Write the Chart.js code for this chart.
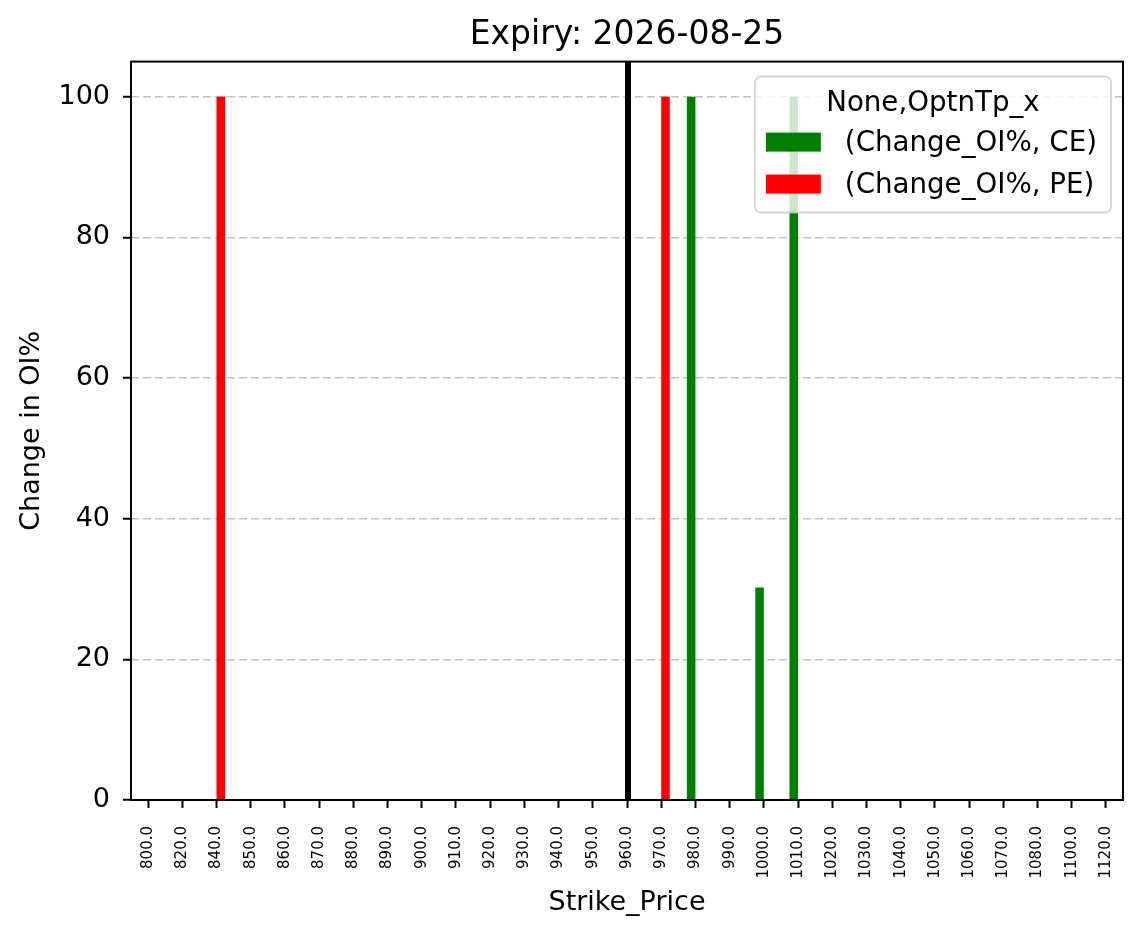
<!DOCTYPE html>
<html>
<head>
<meta charset="utf-8">
<script src="https://cdn.jsdelivr.net/npm/chart.js@4"></script>
<style>
  body { margin: 0; background: #fff; }
  canvas { display: block; }
</style>
</head>
<body>
<canvas id="oiChart" width="1143" height="939"></canvas>
<script>
// strikes on the x axis (as pandas prints them)
const CATEGORIES = ['800.0', '820.0', '840.0', '850.0', '860.0', '870.0', '880.0', '890.0', '900.0', '910.0',
    '920.0', '930.0', '940.0', '950.0', '960.0', '970.0', '980.0', '990.0', '1000.0', '1010.0',
    '1020.0', '1030.0', '1040.0', '1050.0', '1060.0', '1070.0', '1080.0', '1100.0', '1120.0'];

// change in OI% per strike
const CE_VALUES = [0, 0, 0, 0, 0, 0, 0, 0, 0, 0,
    0, 0, 0, 0, 0, 0, 100, 0, 30.2, 100,
    0, 0, 0, 0, 0, 0, 0, 0, 0];
const PE_VALUES = [0, 0, 100, 0, 0, 0, 0, 0, 0, 0,
    0, 0, 0, 0, 0, 100, 0, 0, 0, 0,
    0, 0, 0, 0, 0, 0, 0, 0, 0];

const Y_TICKS = [0, 20, 40, 60, 80, 100];
const ATM_STRIKE = '960.0';

const FONT = '"DejaVu Sans", sans-serif';
Chart.defaults.color = '#000';
Chart.defaults.font.family = FONT;

//thick black line at the current strike
const strikeLine = {
    id: 'strikeLine',
    afterDraw(chart) {
        const {ctx, chartArea: a, scales} = chart;
        const x = scales.x.getPixelForValue(CATEGORIES.indexOf(ATM_STRIKE));
        ctx.save();
        ctx.strokeStyle = '#000';
        ctx.lineWidth = 6;
        ctx.beginPath();
        ctx.moveTo(x + 1, a.top);
        ctx.lineTo(x + 1, a.bottom);
        ctx.stroke();
        ctx.restore();
    }
};

//box around the plot like matplotlib spines
const frame = {
    id: 'frame',
    afterDraw(chart) {
        const {ctx, chartArea: a} = chart;
        ctx.save();
        ctx.strokeStyle = '#000';
        ctx.lineWidth = 2;
        ctx.strokeRect(a.left, a.top, a.right - a.left, a.bottom - a.top);
        ctx.restore();
    }
};

//legend drawn inside the plot, upper right, with a title
const legendBox = {
    id: 'legendBox',
    afterDraw(chart) {
        const {ctx, chartArea: a} = chart;
        const title = 'None,OptnTp_x';
        const sets = chart.data.datasets;
        ctx.save();
        ctx.font = '27.7px ' + FONT;
        let textW = 0;
        sets.forEach(d => { textW = Math.max(textW, ctx.measureText(d.label).width); });
        const w = 11 + 55 + 24 + textW + 14;
        const h = 136;
        const right = a.right - 12;
        const left = right - w;
        const top = a.top + 15;
        const r = 6;

        ctx.beginPath();
        ctx.moveTo(left + r, top);
        ctx.lineTo(right - r, top);
        ctx.arcTo(right, top, right, top + r, r);
        ctx.lineTo(right, top + h - r);
        ctx.arcTo(right, top + h, right - r, top + h, r);
        ctx.lineTo(left + r, top + h);
        ctx.arcTo(left, top + h, left, top + h - r, r);
        ctx.lineTo(left, top + r);
        ctx.arcTo(left, top, left + r, top, r);
        ctx.closePath();
        ctx.fillStyle = 'rgba(255,255,255,0.8)';
        ctx.fill();
        ctx.strokeStyle = 'rgba(204,204,204,0.8)';
        ctx.lineWidth = 2;
        ctx.stroke();

        ctx.fillStyle = '#000';
        ctx.textBaseline = 'middle';
        ctx.textAlign = 'center';
        ctx.fillText(title, (left + right) / 2, top + 27);

        ctx.textAlign = 'left';
        sets.forEach((d, i) => {
            const cy = top + 65.5 + i * 42;
            ctx.fillStyle = d.backgroundColor;
            ctx.fillRect(left + 11, cy - 9.5, 55, 19);
            ctx.fillStyle = '#000';
            ctx.fillText(d.label, left + 11 + 55 + 24, cy + 2);
        });
        ctx.restore();
    }
};

const ctx = document.getElementById('oiChart').getContext('2d');

const myChart = new Chart(ctx, {
    type: 'bar',
    data: {
        labels: CATEGORIES,
        datasets: [
            {
                label: '(Change_OI%, CE)',
                backgroundColor: '#008000',
                data: CE_VALUES,
            },
            {
                label: '(Change_OI%, PE)',
                backgroundColor: '#ff0000',
                data: PE_VALUES,
            },
        ],
    },
    options: {
        responsive: false,
        animation: false,
        categoryPercentage: 0.5,
        barPercentage: 1.0,
        layout: {
            padding: {top: 0, right: 20, bottom: 0, left: 0}
        },
        plugins: {
            legend: {display: false},
            tooltip: {enabled: false},
            title: {
                display: true,
                fullSize: false,
                text: 'Expiry: 2026-08-25',
                color: '#000',
                font: {size: 33, weight: 'normal', family: FONT},
                padding: {top: 16, bottom: 6},
            },
        },
        scales: {
            x: {
                offset: true,
                afterFit: (scale) => { scale.height = 139; },
                grid: {
                    offset: false,
                    drawOnChartArea: false,
                    drawTicks: true,
                    tickLength: 8,
                    tickWidth: 2,
                    tickColor: '#000',
                },
                border: {display: false},
                ticks: {
                    autoSkip: false,
                    minRotation: 90,
                    maxRotation: 90,
                    padding: 18,
                    color: '#000',
                    font: {size: 15, family: FONT},
                },
                title: {
                    display: true,
                    text: 'Strike_Price',
                    color: '#000',
                    font: {size: 27, family: FONT},
                    padding: {top: 0, bottom: 20},
                },
            },
            y: {
                z: 1,
                min: 0,
                max: 105,
                afterFit: (scale) => { scale.width = 131; },
                afterBuildTicks: (scale) => { scale.ticks = Y_TICKS.map(v => ({value: v})); },
                grid: {
                    color: 'rgba(170,170,170,0.7)',
                    lineWidth: 1.5,
                    drawTicks: true,
                    tickLength: 8,
                    tickWidth: 2,
                    tickColor: '#000',
                    tickBorderDash: [],
                },
                border: {display: false, dash: [8, 4]},
                ticks: {
                    padding: 13,
                    color: '#000',
                    font: {size: 27, family: FONT},
                },
                title: {
                    display: true,
                    text: 'Change in OI%',
                    color: '#000',
                    font: {size: 27, family: FONT},
                    padding: {top: 16, bottom: 0},
                },
            },
        },
    },
    plugins: [strikeLine, frame, legendBox],
});
</script>
</body>
</html>
